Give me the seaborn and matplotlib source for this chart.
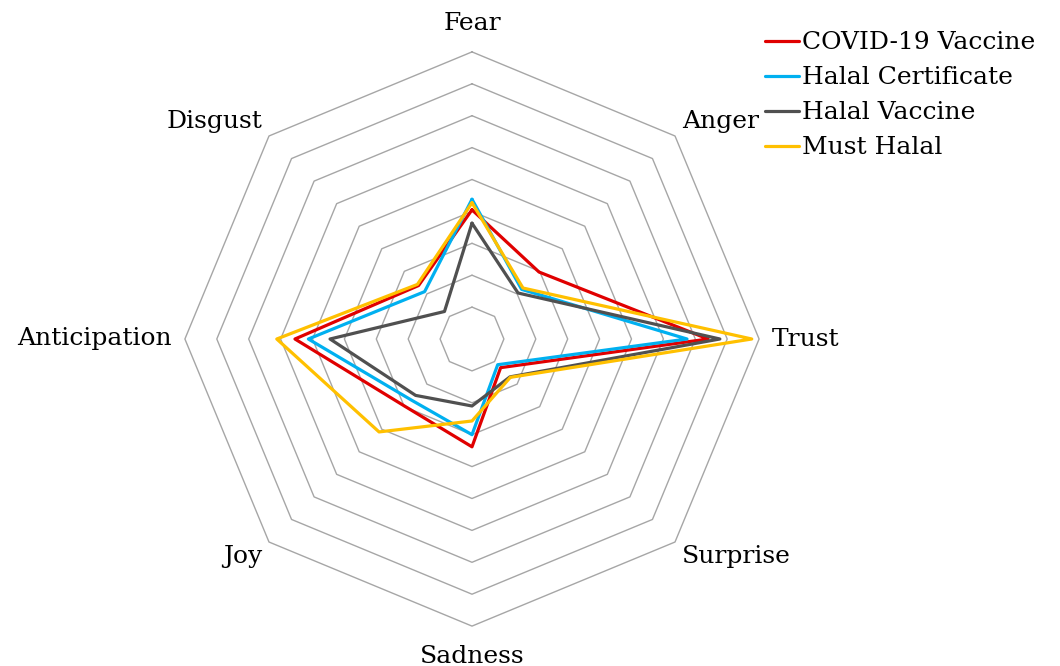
import numpy as np
import seaborn as sns
import matplotlib.pyplot as plt

emotions = ['Fear', 'Anger', 'Trust', 'Surprise', 'Sadness', 'Joy', 'Anticipation', 'Disgust']
series = ['COVID-19 Vaccine', 'Halal Certificate', 'Halal Vaccine', 'Must Halal']
covid_vaccine = [4.05, 2.97, 7.40, 1.27, 3.38, 2.98, 5.55, 2.37]
halal_certificate = [4.38, 2.20, 6.74, 1.14, 3.00, 2.70, 5.13, 2.10]
halal_vaccine = [3.63, 2.04, 7.77, 1.68, 2.10, 2.50, 4.45, 1.22]
must_halal = [4.27, 2.26, 8.77, 1.70, 2.57, 4.12, 6.12, 2.42]
colors = ['#E00000', '#00B0F0', '#505050', '#FFC000']
rings = [1, 2, 3, 4, 5, 6, 7, 8, 9]

sns.set_style('white')
plt.rcParams['font.family'] = ['DejaVu Serif']
plt.rcParams['text.color'] = 'black'

fig = plt.figure(figsize=(10.6, 6.66), dpi=100)
ax = fig.add_axes([0, 0, 1, 1])
unit = 31.9
ax.set_xlim(-472 / unit, (1060 - 472) / unit)
ax.set_ylim(-(666 - 339) / unit, 339 / unit)
ax.axis('off')

ang = np.deg2rad(90 - 45 * np.arange(len(emotions)))
ang_c = np.append(ang, ang[0])

# octagon grid
for r in rings:
    ax.plot(r * np.cos(ang_c), r * np.sin(ang_c), color='#A6A6A6', lw=1.0, zorder=1)

for name, vals, col in zip(series, [covid_vaccine, halal_certificate, halal_vaccine, must_halal], colors):
    v = np.append(vals, vals[0])
    sns.lineplot(x=v * np.cos(ang_c), y=v * np.sin(ang_c), sort=False, estimator=None,
                 color=col, lw=2.3, label=name, ax=ax, zorder=3)

# axis labels
fs = 18
for lab, a in zip(emotions, ang):
    c, s = np.cos(a), np.sin(a)
    if abs(c) < 0.1:
        yy = 9.69 if s > 0 else -10.16
        ax.text(0, yy, lab, ha='center', va='baseline', fontsize=fs)
    elif abs(s) < 0.1:
        ax.text(9.4 * np.sign(c), 0, lab, ha='left' if c > 0 else 'right', va='center', fontsize=fs)
    else:
        ax.text(9.0 * c + 0.22 * np.sign(c), 9.0 * s + 0.1 * np.sign(s), lab,
                ha='left' if c > 0 else 'right', va='bottom' if s > 0 else 'top', fontsize=fs)

ax.legend(loc='upper left', bbox_to_anchor=(0.722, 0.953), bbox_transform=fig.transFigure,
          frameon=False, fontsize=fs, handlelength=1.35, handletextpad=0.1,
          labelspacing=0.48, borderpad=0, borderaxespad=0)

fig.savefig('out.png', dpi=100)
